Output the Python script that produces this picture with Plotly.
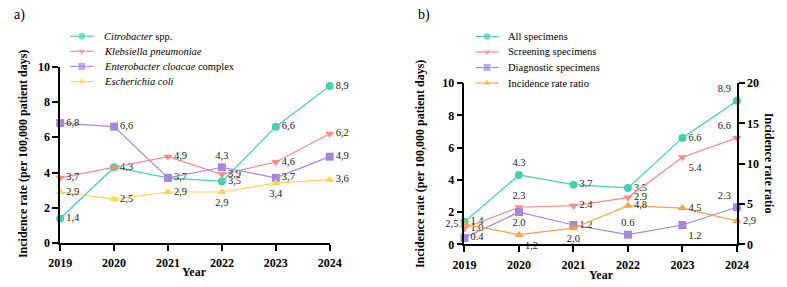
import plotly.graph_objects as go

years = [2019, 2020, 2021, 2022, 2023, 2024]

# Panel a
citrobacter = [1.4, 4.3, 3.7, 3.5, 6.6, 8.9]
klebsiella = [3.7, 4.3, 4.9, 3.9, 4.6, 6.2]
enterobacter = [6.8, 6.6, 3.7, 4.3, 3.7, 4.9]
ecoli = [2.9, 2.5, 2.9, 2.9, 3.4, 3.6]

# Panel b
all_spec = [1.4, 4.3, 3.7, 3.5, 6.6, 8.9]
screening = [1.0, 2.3, 2.4, 2.9, 5.4, 6.6]
diagnostic = [0.4, 2.0, 1.2, 0.6, 1.2, 2.3]
irr = [2.5, 1.2, 2.0, 4.8, 4.5, 2.9]

names_a = ["<i>Citrobacter</i> spp.", "<i>Klebsiella pneumoniae</i>",
           "<i>Enterobacter cloacae</i> complex", "<i>Escherichia coli</i>"]
names_b = ["All specimens", "Screening specimens", "Diagnostic specimens",
           "Incidence rate ratio"]

TEAL = "#45D0B2"
PINK = "#F98A8A"
PURPLE = "#A587DC"
YELLOW = "#FFD54F"
ORANGE = "#FFA23F"

FONT = "Liberation Serif"
W, H = 787, 287


def fmt(vals, sep, hide=()):
    return ["" if i in hide else f"{v:.1f}".replace(".", sep) for i, v in enumerate(vals)]


fig = go.Figure()


def add(x, y, name, color, symbol, text, pos, xa, ya):
    fig.add_trace(go.Scatter(
        x=x, y=y, name=name, mode="lines+markers+text",
        line=dict(color=color, width=1.2),
        marker=dict(color=color, symbol=symbol, size=8),
        text=text, textposition=pos,
        textfont=dict(family=FONT, size=10.5, color="#222"),
        cliponaxis=False, xaxis=xa, yaxis=ya, showlegend=False, hoverinfo="x+y",
    ))


R = "middle right"
add(years, citrobacter, names_a[0], TEAL, "circle",
    fmt(citrobacter, ","), [R] * 6, "x", "y")
add(years, klebsiella, names_a[1], PINK, "triangle-down",
    fmt(klebsiella, ",", hide=(1,)), [R] * 6, "x", "y")
add(years, enterobacter, names_a[2], PURPLE, "square",
    fmt(enterobacter, ",", hide=(2,)), [R, R, R, "top center", R, R], "x", "y")
add(years, ecoli, names_a[3], YELLOW, "triangle-up",
    fmt(ecoli, ","), [R, R, R, "bottom center", "bottom center", R], "x", "y")

add(years, all_spec, names_b[0], TEAL, "circle",
    fmt(all_spec, "."), [R, "top center", R, R, R, "top left"], "x2", "y2")
add(years, screening, names_b[1], PINK, "triangle-down",
    fmt(screening, "."), [R, "top center", R, R, "bottom right", "top left"], "x2", "y2")
add(years, diagnostic, names_b[2], PURPLE, "square",
    fmt(diagnostic, "."), [R, "bottom center", R, "top center", "bottom right", "top left"], "x2", "y2")
add(years, irr, names_b[3], ORANGE, "triangle-up",
    fmt(irr, ","), ["middle left", "bottom right", "bottom center", R, R, R], "x2", "y3")

# Manual legends drawn in a pixel-coordinate overlay
colors = [TEAL, PINK, PURPLE, YELLOW]
colors_b = [TEAL, PINK, PURPLE, ORANGE]
symbols = ["circle", "triangle-down", "square", "triangle-up"]
ann = []


def legend(names, cols, x0, y0, dy, line_len, text_gap):
    for i, (nm, c, s) in enumerate(zip(names, cols, symbols)):
        yy = y0 + dy * i
        fig.add_trace(go.Scatter(
            x=[x0, x0 + line_len / 2, x0 + line_len], y=[yy, yy, yy], mode="lines+markers",
            line=dict(color=c, width=1.2), marker=dict(color=c, symbol=s, size=[0, 8, 0]),
            xaxis="x3", yaxis="y4", showlegend=False, hoverinfo="skip", cliponaxis=False))
        ann.append(dict(text=nm, x=x0 + line_len + text_gap, y=yy, xref="x3", yref="y4",
                        xanchor="left", yanchor="middle", showarrow=False,
                        font=dict(family=FONT, size=10.5, color="black")))


legend(names_a, colors, 60, 30.7, 15.9, 24, 9)
legend(names_b, colors_b, 478, 31, 16.3, 24, 8)

tickfont = dict(family=FONT, size=12, color="black", weight="bold")
axis_common = dict(showline=True, linecolor="black", linewidth=1.5, ticks="outside",
                   ticklen=6, tickwidth=1.5, tickcolor="black", showgrid=False,
                   zeroline=False, tickfont=tickfont)


def px_x(p):
    return p / W


def px_y(p):
    return 1 - p / H


fig.update_layout(
    width=W, height=H, margin=dict(l=0, r=0, t=0, b=0),
    paper_bgcolor="white", plot_bgcolor="rgba(0,0,0,0)",
    font=dict(family=FONT, color="black"),
    showlegend=False,
    xaxis=dict(domain=[px_x(49.7), px_x(327.7)], range=[2019, 2024], tickvals=years,
               anchor="y", ticklabelstandoff=2, **axis_common),
    yaxis=dict(domain=[px_y(248.3), px_y(62.7)], range=[0, 10], tickvals=[0, 2, 4, 6, 8, 10],
               anchor="x", **axis_common),
    xaxis2=dict(domain=[px_x(466.7), px_x(747.7)], range=[2019, 2024], tickvals=years,
                anchor="y2", ticklabelstandoff=3, **axis_common),
    yaxis2=dict(domain=[px_y(249.5), px_y(80)], range=[0, 10], tickvals=[0, 2, 4, 6, 8, 10],
                anchor="x2", **axis_common),
    yaxis3=dict(range=[0, 20], tickvals=[0, 5, 10, 15, 20], overlaying="y2", side="right",
                anchor="x2", **axis_common),
    xaxis3=dict(domain=[0, 1], range=[0, W], visible=False, anchor="y4", fixedrange=True),
    yaxis4=dict(domain=[0, 1], range=[H, 0], visible=False, anchor="x3", fixedrange=True),
)

ann.append(dict(text="a)", x=0, y=px_y(8), xref="paper", yref="paper", xanchor="left",
                yanchor="middle", showarrow=False, font=dict(family=FONT, size=14)))
ann.append(dict(text="b)", x=px_x(417), y=px_y(8), xref="paper", yref="paper", xanchor="left",
                yanchor="middle", showarrow=False, font=dict(family=FONT, size=14)))
ytitle = "Incidence rate (per 100,000 patient days)"
bold12 = dict(family=FONT, size=12, weight="bold", color="black")
ann.append(dict(text=ytitle, x=px_x(12), y=px_y(155), xref="paper", yref="paper",
                xanchor="center", yanchor="middle", textangle=-90, showarrow=False, font=bold12))
ann.append(dict(text=ytitle, x=px_x(421), y=px_y(165), xref="paper", yref="paper",
                xanchor="center", yanchor="middle", textangle=-90, showarrow=False, font=bold12))
ann.append(dict(text="Incidence rate ratio", x=px_x(781), y=px_y(164), xref="paper", yref="paper",
                xanchor="center", yanchor="middle", textangle=90, showarrow=False, font=bold12))
ann.append(dict(text="Year", x=px_x(188), y=px_y(279), xref="paper", yref="paper",
                xanchor="center", yanchor="middle", showarrow=False, font=bold12))
ann.append(dict(text="Year", x=px_x(608), y=px_y(282), xref="paper", yref="paper",
                xanchor="center", yanchor="middle", showarrow=False, font=bold12))
fig.update_layout(annotations=ann)

fig.write_html("out.html")
